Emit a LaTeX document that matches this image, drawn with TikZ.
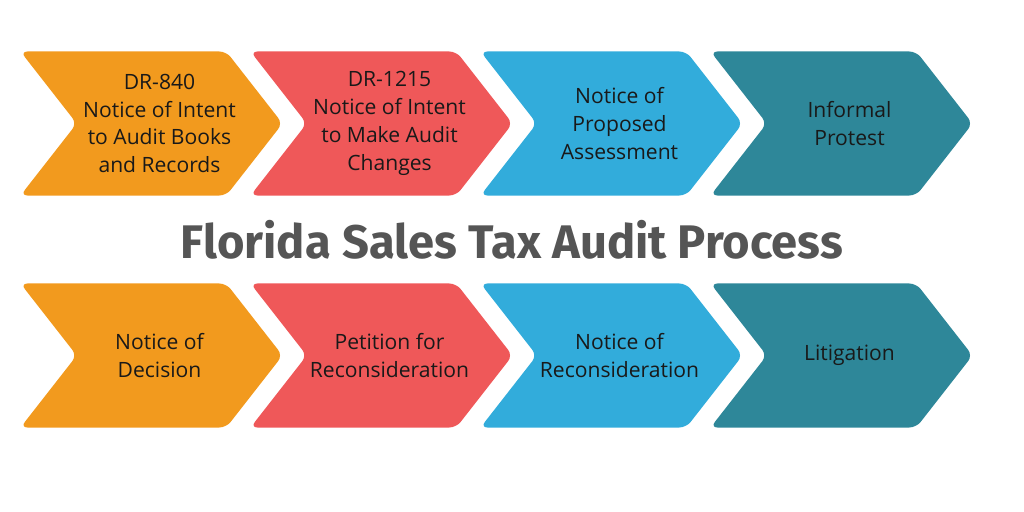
\documentclass[tikz,border=0pt]{standalone}
\usepackage{fontspec}
\setmainfont{Open Sans}
\newfontfamily\headfont{Fira Sans}
\usepackage{tikz}
\usetikzlibrary{shapes.symbols}
\definecolor{stepA}{HTML}{F29A1E}
\definecolor{stepB}{HTML}{EF5859}
\definecolor{stepC}{HTML}{32ACDB}
\definecolor{stepD}{HTML}{2E8799}
\definecolor{headgray}{HTML}{555555}
\tikzset{
	chev/.style={signal, signal to=east, signal from=west, signal pointer angle=104,
		minimum width=6.55cm, minimum height=3.6cm, inner sep=0pt, rounded corners=5pt},
	chevtext/.style={align=center, text=black!90, font=\fontsize{15}{19.8}\selectfont}
}

\begin{document}
\begin{tikzpicture}[x=0.025cm, y=-0.025cm]
		\useasboundingbox (0,0) rectangle (1024,512);
		% top row
		\node[chev, fill=stepA] (a1) at (151.5,123.5) {};
		\node[chev, fill=stepB] (a2) at (381.5,123.5) {};
		\node[chev, fill=stepC] (a3) at (611.5,123.5) {};
		\node[chev, fill=stepD] (a4) at (841.5,123.5) {};
		\node[chevtext] (ta1) at ([xshift=0.2cm]a1.center) {DR-840\\Notice of Intent\\to Audit Books\\and Records};
		\node[chevtext] (ta2) at ([xshift=0.2cm]a2.center) {DR-1215\\Notice of Intent\\to Make Audit\\Changes};
		\node[chevtext] (ta3) at ([xshift=0.2cm]a3.center) {Notice of\\Proposed\\Assessment};
		\node[chevtext] (ta4) at ([xshift=0.2cm]a4.center) {Informal\\Protest};
		% title
		\node[text=headgray, font=\headfont\bfseries\fontsize{33.5}{36}\selectfont] (title) at (512,240) {Florida Sales Tax Audit Process};
		% bottom row
		\node[chev, fill=stepA] (b1) at (151.5,355.5) {};
		\node[chev, fill=stepB] (b2) at (381.5,355.5) {};
		\node[chev, fill=stepC] (b3) at (611.5,355.5) {};
		\node[chev, fill=stepD] (b4) at (841.5,355.5) {};
		\node[chevtext] (tb1) at ([xshift=0.2cm]b1.center) {Notice of\\Decision};
		\node[chevtext] (tb2) at ([xshift=0.2cm]b2.center) {Petition for\\Reconsideration};
		\node[chevtext] (tb3) at ([xshift=0.2cm]b3.center) {Notice of\\Reconsideration};
		\node[chevtext] (tb4) at ([xshift=0.2cm]b4.center) {Litigation};
	\end{tikzpicture}
\end{document}
